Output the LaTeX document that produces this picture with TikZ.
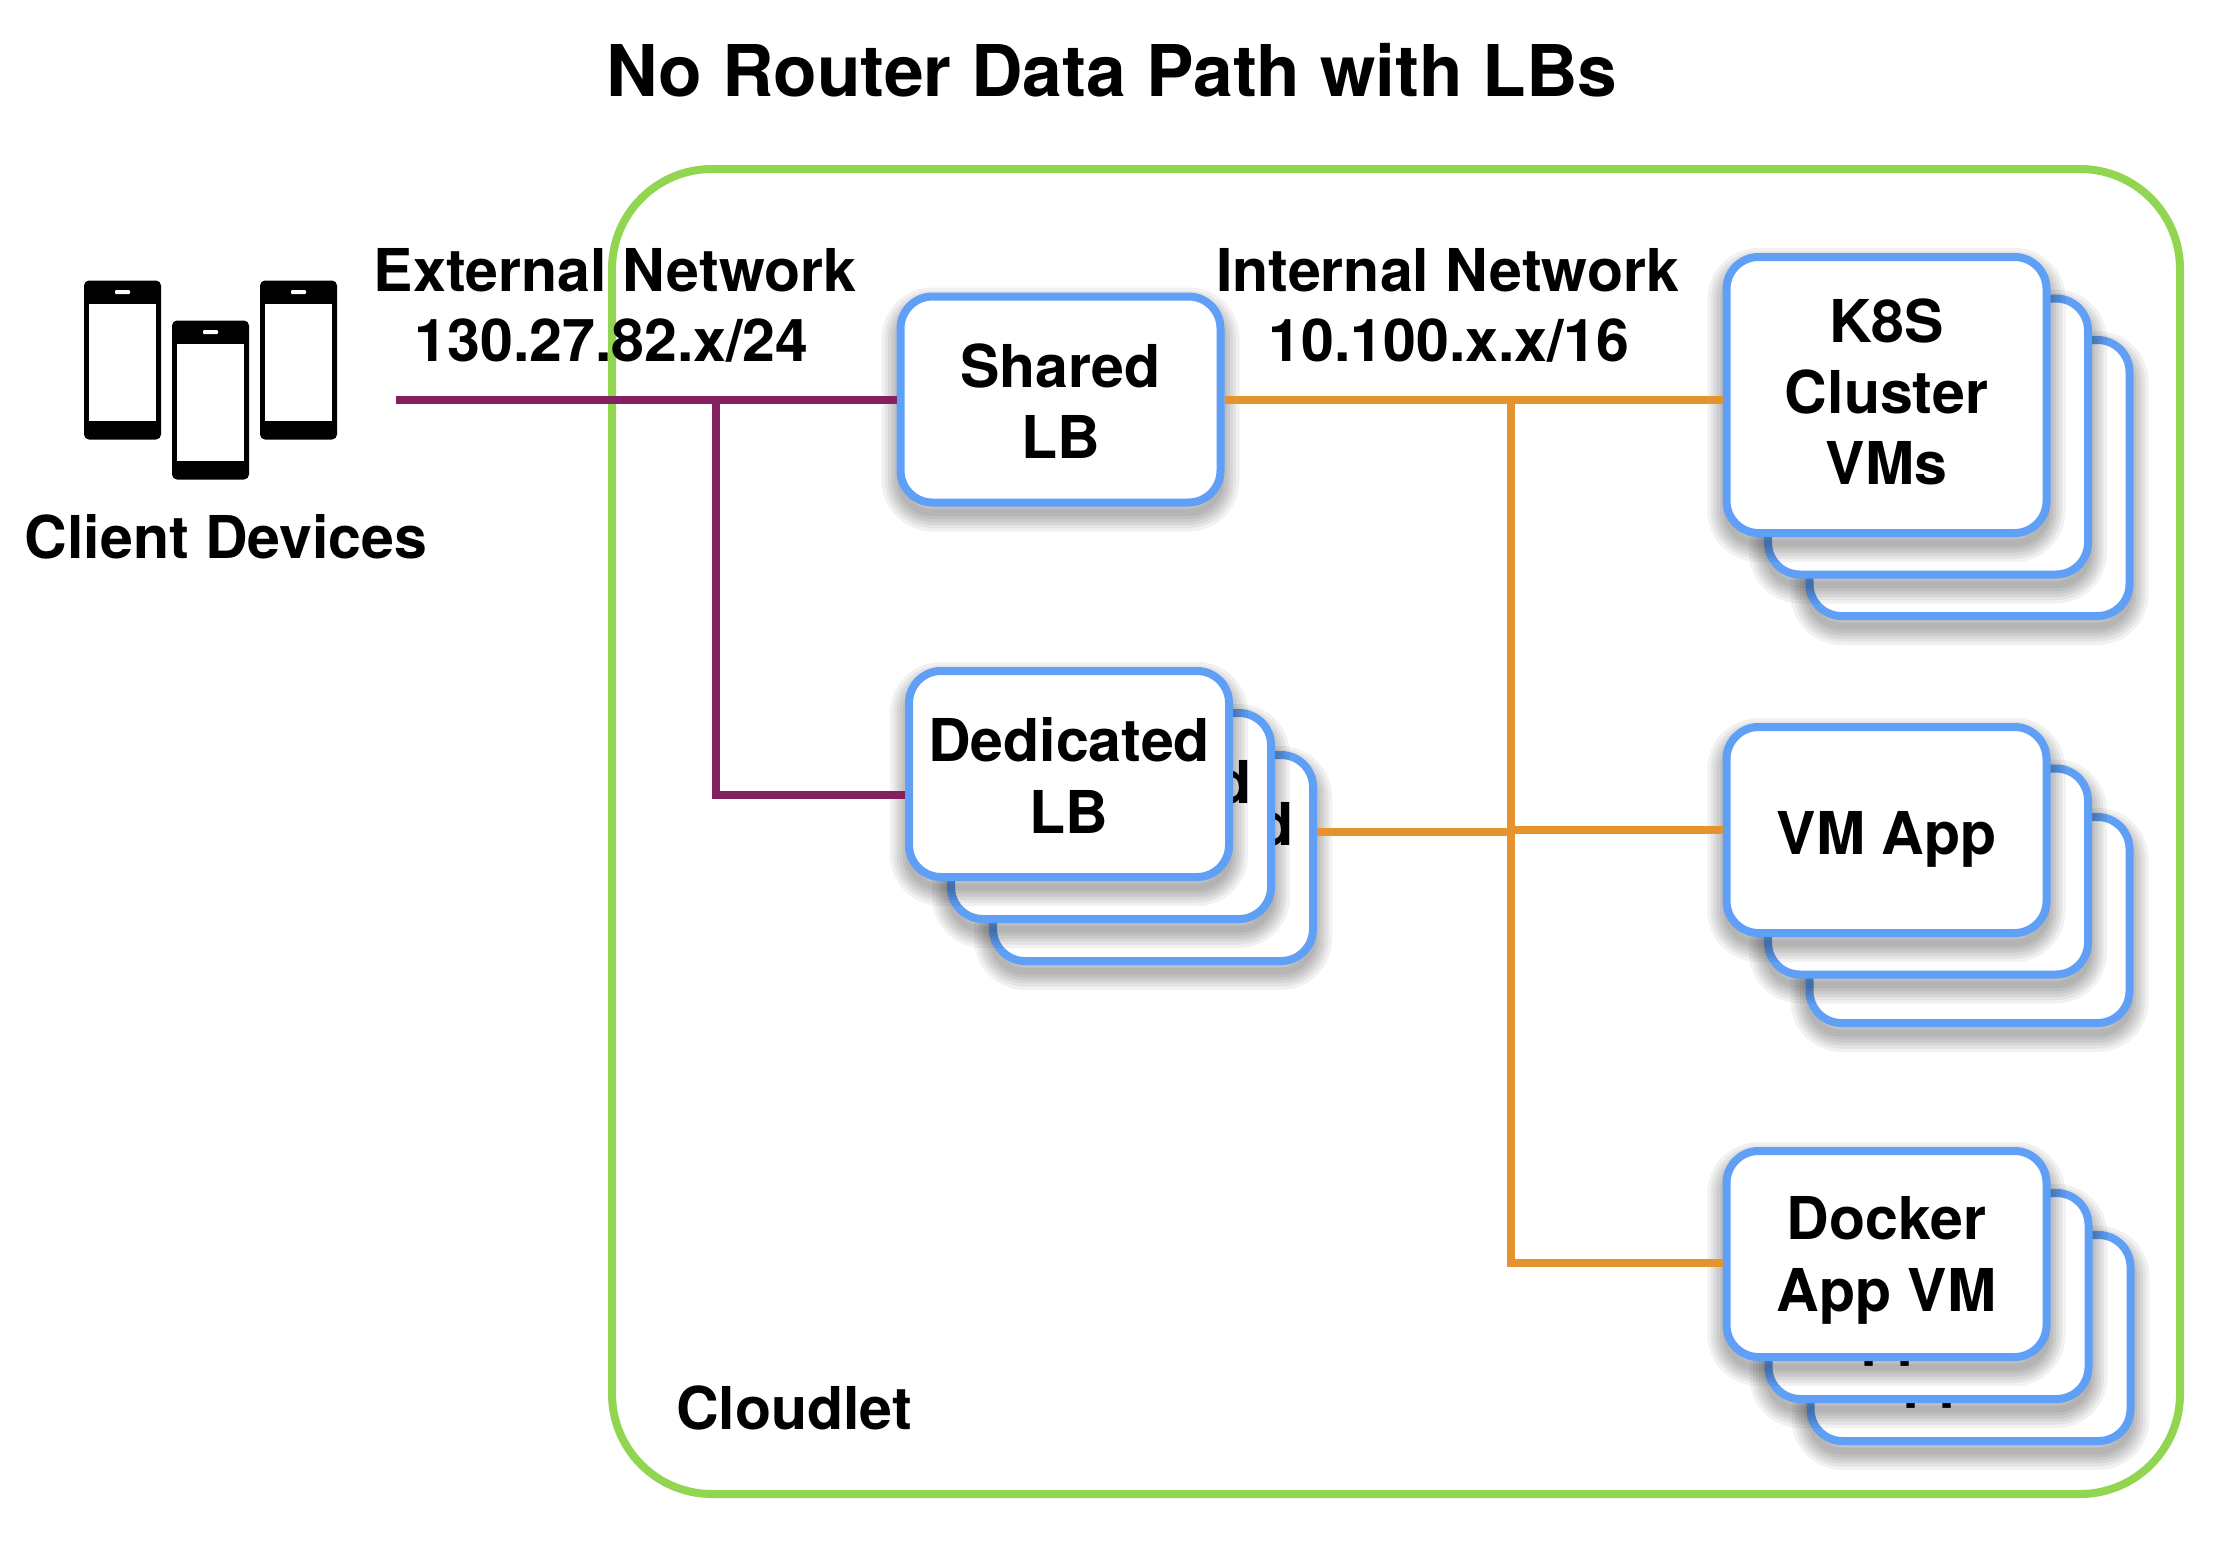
\documentclass[tikz,border=0pt]{standalone}
\usepackage{fontspec}
\setmainfont{TeX Gyre Heros}
\usepackage{tikz}

\definecolor{cloudgreen}{HTML}{91D550}
\definecolor{vmblue}{HTML}{5F9FF5}
\definecolor{extpurple}{HTML}{832160}
\definecolor{intorange}{HTML}{E4932F}

\tikzset{
    lbl/.style={font=\bfseries\fontsize{16.8}{20.3}\selectfont,align=center,inner sep=0pt},
    softlayer/.style={preaction={draw=black,draw opacity=0.055,fill=none,line width=#1,transform canvas={yshift=-0.1cm}}},
    vmbox/.style={rectangle,rounded corners=0.32cm,draw=vmblue,line width=0.08cm,fill=white,
        softlayer/.list={0.38cm,0.31cm,0.25cm,0.19cm,0.13cm,0.07cm},
        minimum width=3.2cm,minimum height=2.06cm,
        align=center,inner sep=0pt,font=\bfseries\fontsize{16.8}{20.3}\selectfont},
    tallbox/.style={vmbox,minimum height=2.76cm},
    ext/.style={draw=extpurple,line width=0.08cm},
    int/.style={draw=intorange,line width=0.08cm},
    phone/.style={rectangle,fill=black,rounded corners=0.05cm,minimum width=0.77cm,minimum height=1.59cm,inner sep=0pt},
    screen/.style={rectangle,fill=white,minimum width=0.67cm,minimum height=1.17cm,inner sep=0pt},
    speaker/.style={rectangle,fill=white,rounded corners=0.01cm,minimum width=0.15cm,minimum height=0.04cm,inner sep=0pt},
}

\newcommand{\tdepth}[2]{\raisebox{0pt}[\height][#1]{#2}}
\newcommand{\theight}[3]{\raisebox{0pt}[\dimexpr\height+#1\relax][#2]{#3}}

\begin{document}
\begin{tikzpicture}
    \useasboundingbox (0, 0) rectangle (22.35, -15.5);

    \node[font=\bfseries\fontsize{20.3}{24}\selectfont,inner sep=0pt] at (11.12, -0.70) (title) {No Router Data Path with LBs};

    \node[rectangle,rounded corners=1.0cm,draw=cloudgreen,line width=0.08cm,minimum width=15.68cm,minimum height=13.25cm] at (13.96, -8.315) (cloudlet) {};
    \node[lbl] at (7.94, -14.08) (cloudletlbl) {Cloudlet};

    % phones
    \foreach \name/\x/\y in {pa/1.225/-3.6, pb/2.105/-4.0, pc/2.985/-3.6} {
        \node[phone] at (\x, \y) (\name) {};
        \node[screen] at (\x, \y-0.02) (\name s) {};
        \node[speaker] at (\x, \y+0.68) (\name k) {};
    }
    \node[lbl] at (2.26, -5.37) (client) {Client Devices};

    \node[lbl] at (6.15, -2.70) (extnet) {External Network};
    \node[lbl] at (6.115, -3.41) (extip) {130.27.82.x/24};
    \node[lbl] at (14.475, -2.70) (intnet) {Internal Network};
    \node[lbl] at (14.49, -3.41) (intip) {10.100.x.x/16};

    \coordinate (src) at (3.955, -4.0);
    \coordinate (extj) at (7.16, -4.0);
    \coordinate (extd) at (7.16, -7.95);
    \coordinate (intj) at (15.11, -4.0);
    \coordinate (intd) at (15.11, -8.32);
    \coordinate (intv) at (15.11, -8.30);
    \coordinate (intb) at (15.11, -12.63);

    % stacks of boxes
    \node[vmbox] at (11.53, -8.58) (ded3) {\theight{0.03cm}{0pt}{Dedicated}\\LB};
    \node[vmbox] at (11.11, -8.16) (ded2) {\theight{0.03cm}{0pt}{Dedicated}\\LB};
    \node[vmbox] at (10.69, -7.74) (ded1) {\theight{0.03cm}{0pt}{Dedicated}\\LB};
    \node[vmbox] at (10.605, -3.995) (shared) {\theight{0.03cm}{0pt}{Shared}\\LB};

    \node[tallbox] at (19.695, -4.78) (k3) {K8S\\Cluster\\\tdepth{0.07cm}{VMs}};
    \node[tallbox] at (19.28, -4.365) (k2) {K8S\\Cluster\\\tdepth{0.07cm}{VMs}};
    \node[tallbox] at (18.865, -3.95) (k1) {K8S\\Cluster\\\tdepth{0.07cm}{VMs}};

    \node[vmbox] at (19.695, -9.20) (vm3) {\theight{0.056cm}{0pt}{VM App}};
    \node[vmbox] at (19.28, -8.715) (vm2) {\theight{0.056cm}{0pt}{VM App}};
    \node[vmbox] at (18.865, -8.30) (vm1) {\theight{0.056cm}{0pt}{VM App}};

    \node[vmbox] at (19.705, -13.38) (doc3) {Docker\\\tdepth{0pt}{App VM}};
    \node[vmbox] at (19.285, -12.96) (doc2) {Docker\\\tdepth{0pt}{App VM}};
    \node[vmbox] at (18.865, -12.54) (doc1) {Docker\\\tdepth{0pt}{App VM}};

    \draw[ext] (src) -- (shared.west |- src);
    \draw[ext] (extj) -- (extd) -- (ded1.west |- extd);
    \draw[int] (shared.east |- intj) -- (k1.west |- intj);
    \draw[int] (intj) -- (intb) -- (doc1.west |- intb);
    \draw[int] (ded3.east |- intd) -- (intd);
    \draw[int] (intv) -- (vm1.west |- intv);
\end{tikzpicture}
\end{document}
